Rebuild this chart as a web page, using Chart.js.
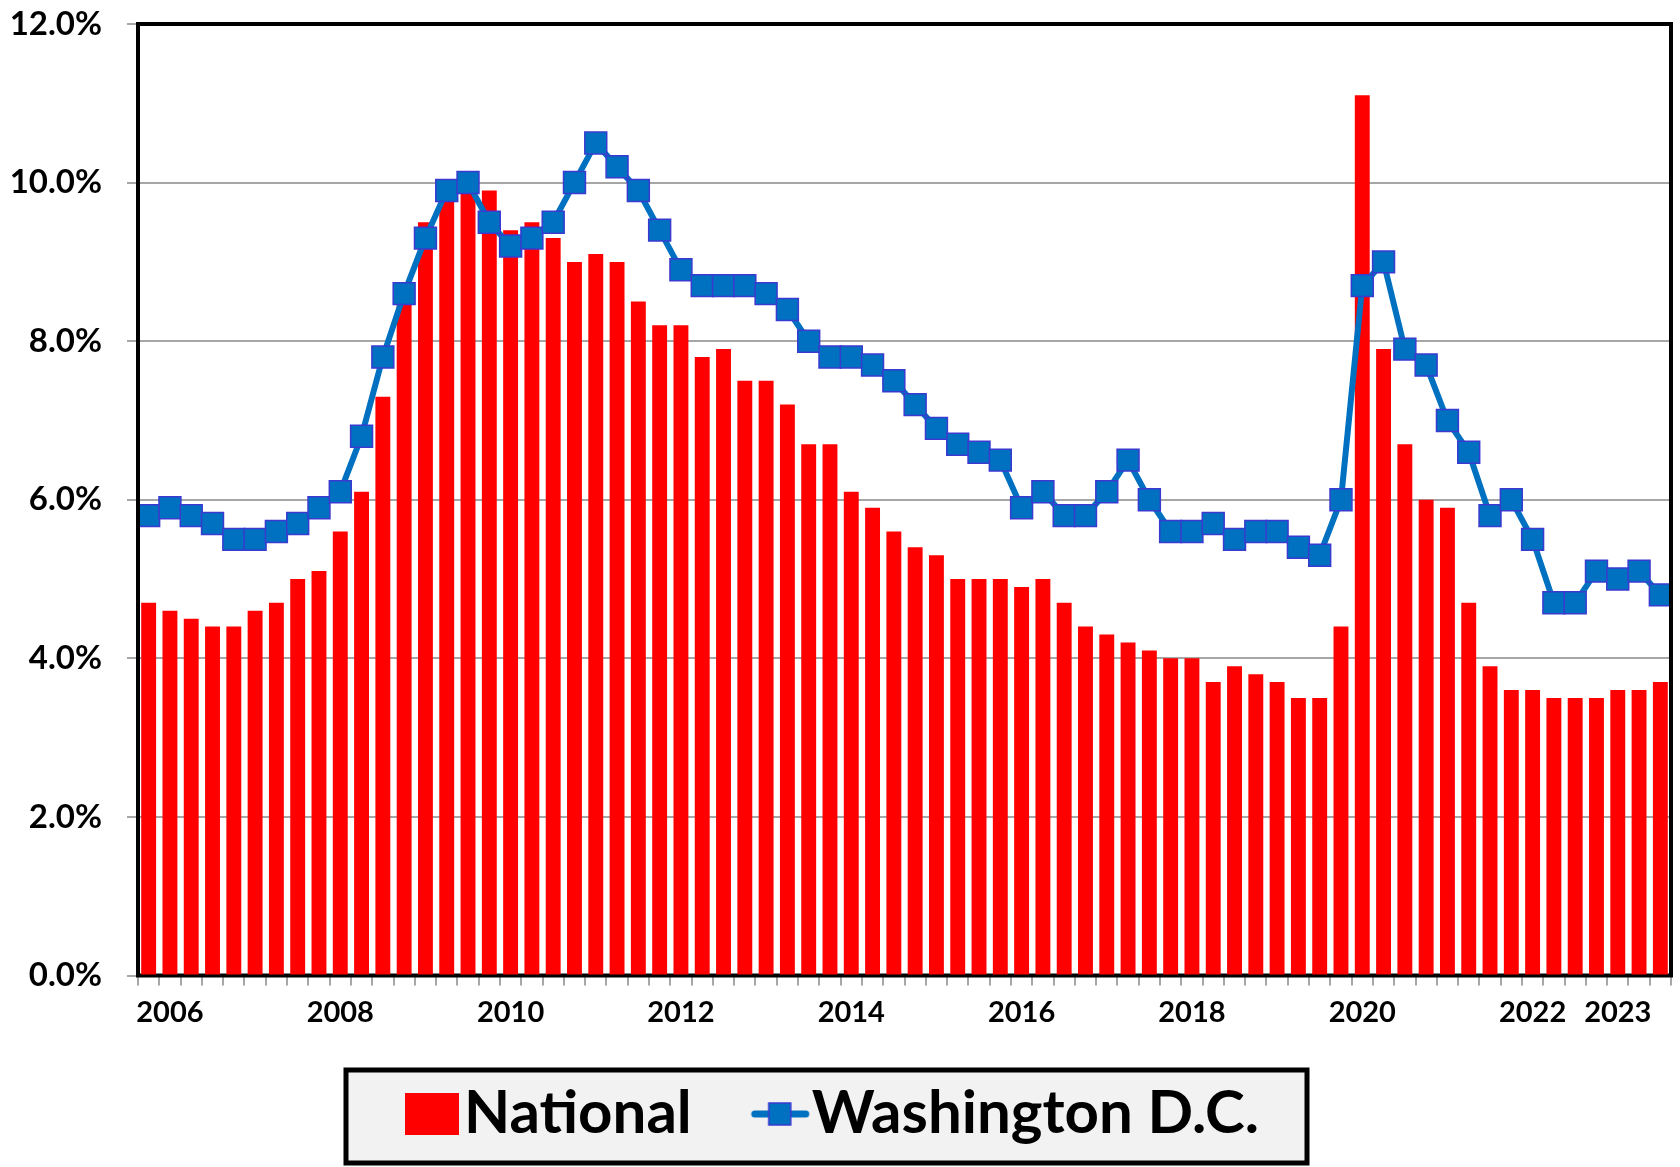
<!DOCTYPE html>
<html>
<head>
<meta charset="utf-8">
<script src="https://cdn.jsdelivr.net/npm/chart.js@4.4.1/dist/chart.umd.min.js"></script>
<style>
  html, body { margin: 0; padding: 0; background: #fff; }
  #wrap { width: 1680px; height: 1167px; }
</style>
</head>
<body>
<div id="wrap"><canvas id="chart" width="1680" height="1167"></canvas></div>
<script>
// quarterly, 2006 Q1 .. 2023 Q4
const quarters = [
  "2006Q1","2006Q2","2006Q3","2006Q4","2007Q1","2007Q2","2007Q3","2007Q4",
  "2008Q1","2008Q2","2008Q3","2008Q4","2009Q1","2009Q2","2009Q3","2009Q4",
  "2010Q1","2010Q2","2010Q3","2010Q4","2011Q1","2011Q2","2011Q3","2011Q4",
  "2012Q1","2012Q2","2012Q3","2012Q4","2013Q1","2013Q2","2013Q3","2013Q4",
  "2014Q1","2014Q2","2014Q3","2014Q4","2015Q1","2015Q2","2015Q3","2015Q4",
  "2016Q1","2016Q2","2016Q3","2016Q4","2017Q1","2017Q2","2017Q3","2017Q4",
  "2018Q1","2018Q2","2018Q3","2018Q4","2019Q1","2019Q2","2019Q3","2019Q4",
  "2020Q1","2020Q2","2020Q3","2020Q4","2021Q1","2021Q2","2021Q3","2021Q4",
  "2022Q1","2022Q2","2022Q3","2022Q4","2023Q1","2023Q2","2023Q3","2023Q4"
];

const national = [
  4.7, 4.6, 4.5, 4.4, 4.4, 4.6, 4.7, 5.0,
  5.1, 5.6, 6.1, 7.3, 8.5, 9.5, 9.8, 9.9,
  9.9, 9.4, 9.5, 9.3, 9.0, 9.1, 9.0, 8.5,
  8.2, 8.2, 7.8, 7.9, 7.5, 7.5, 7.2, 6.7,
  6.7, 6.1, 5.9, 5.6, 5.4, 5.3, 5.0, 5.0,
  5.0, 4.9, 5.0, 4.7, 4.4, 4.3, 4.2, 4.1,
  4.0, 4.0, 3.7, 3.9, 3.8, 3.7, 3.5, 3.5,
  4.4, 11.1, 7.9, 6.7, 6.0, 5.9, 4.7, 3.9,
  3.6, 3.6, 3.5, 3.5, 3.5, 3.6, 3.6, 3.7
];

const washingtonDC = [
  5.8, 5.9, 5.8, 5.7, 5.5, 5.5, 5.6, 5.7,
  5.9, 6.1, 6.8, 7.8, 8.6, 9.3, 9.9, 10.0,
  9.5, 9.2, 9.3, 9.5, 10.0, 10.5, 10.2, 9.9,
  9.4, 8.9, 8.7, 8.7, 8.7, 8.6, 8.4, 8.0,
  7.8, 7.8, 7.7, 7.5, 7.2, 6.9, 6.7, 6.6,
  6.5, 5.9, 6.1, 5.8, 5.8, 6.1, 6.5, 6.0,
  5.6, 5.6, 5.7, 5.5, 5.6, 5.6, 5.4, 5.3,
  6.0, 8.7, 9.0, 7.9, 7.7, 7.0, 6.6, 5.8,
  6.0, 5.5, 4.7, 4.7, 5.1, 5.0, 5.1, 4.8
];

// year labels shown under the axis and the category they sit on
const yearLabels = ["2006", "2008", "2010", "2012", "2014", "2016", "2018", "2020", "2022", "2023"];
const yearLabelAt = [1, 9, 17, 25, 33, 41, 49, 57, 65, 69];

const yTicks = [0, 2, 4, 6, 8, 10, 12];

const RED = "#ff0000";
const BLUE = "#0070c0";
const MARKER_EDGE = "#3a3ad0";
const GRID = "#a6a6a6";
const FONT = "Lato, 'Open Sans', sans-serif";

// legend swatches (canvas images used as point styles)
function swatch(kind) {
  const c = document.createElement("canvas");
  const g = c.getContext("2d");
  if (kind === "bar") {
    c.width = 120; c.height = 42;
    g.fillStyle = RED;
    g.fillRect(46, 0, 54, 42);
  } else {
    c.width = 120; c.height = 26;
    g.strokeStyle = BLUE;
    g.lineWidth = 7;
    g.lineCap = "round";
    g.beginPath();
    g.moveTo(48, 13);
    g.lineTo(99, 13);
    g.stroke();
    g.fillStyle = BLUE;
    g.fillRect(62, 2, 22, 22);
    g.strokeStyle = MARKER_EDGE;
    g.lineWidth = 1.5;
    g.strokeRect(62, 2, 22, 22);
  }
  return c;
}

const frame = {
  id: "frame",
  afterLayout(chart) {
    // nudge the legend row a little to the left, like the original
    chart.legend.left -= 4;
    chart.legend.right -= 4;
  },
  beforeDraw(chart) {
    const ctx = chart.ctx;
    ctx.save();
    ctx.fillStyle = "#f2f2f2";
    ctx.fillRect(346, 1070, 961, 93);
    ctx.strokeStyle = "#000";
    ctx.lineWidth = 5;
    ctx.strokeRect(346, 1070, 961, 93);
    ctx.restore();
  },
  beforeDatasetsDraw(chart) {
    const a = chart.chartArea;
    const ctx = chart.ctx;
    ctx.save();
    ctx.strokeStyle = "#000";
    ctx.lineWidth = 4;
    ctx.strokeRect(a.left, a.top, a.right - a.left, a.bottom - a.top);
    ctx.restore();
  },
  afterDatasetsDraw(chart) {
    const a = chart.chartArea;
    const ctx = chart.ctx;
    ctx.save();
    ctx.strokeStyle = "#000";
    ctx.lineWidth = 4;
    ctx.beginPath();
    ctx.moveTo(a.left, a.top);
    ctx.lineTo(a.right, a.top);
    ctx.lineTo(a.right, a.bottom);
    ctx.moveTo(a.left, a.top);
    ctx.lineTo(a.left, a.bottom);
    ctx.stroke();
    ctx.restore();
  }
};

new Chart(document.getElementById("chart").getContext("2d"), {
  data: {
    labels: quarters,
    datasets: [
      {
        type: "bar",
        label: "National",
        data: national,
        backgroundColor: RED,
        borderWidth: 0,
        barPercentage: 0.7,
        categoryPercentage: 1.0,
        order: 2
      },
      {
        type: "line",
        label: "Washington D.C.",
        data: washingtonDC,
        borderColor: BLUE,
        borderWidth: 6,
        tension: 0,
        pointStyle: "rect",
        pointRadius: 15.5,
        pointBackgroundColor: BLUE,
        pointBorderColor: MARKER_EDGE,
        pointBorderWidth: 1.5,
        order: 1
      }
    ]
  },
  options: {
    responsive: false,
    animation: false,
    layout: { autoPadding: false, padding: { left: 0, right: 9, top: 5, bottom: 13 } },
    plugins: {
      tooltip: { enabled: false },
      legend: {
        position: "bottom",
        labels: {
          usePointStyle: true,
          pointStyleWidth: 30,
          padding: 60,
          color: "#000",
          font: { family: FONT, size: 60, weight: "bold" },
          generateLabels() {
            return [
              { text: "National", pointStyle: swatch("bar"), fillStyle: RED, lineWidth: 0, datasetIndex: 0 },
              { text: "Washington D.C.", pointStyle: swatch("line"), fillStyle: BLUE, lineWidth: 0, datasetIndex: 1 }
            ];
          }
        }
      }
    },
    scales: {
      x: {
        offset: true,
        afterFit(scale) { scale.height = 48.5; },
        grid: {
          display: true,
          offset: true,
          drawOnChartArea: false,
          drawTicks: true,
          tickLength: 10,
          color: GRID,
          lineWidth: 2
        },
        border: { display: false },
        ticks: {
          autoSkip: false,
          maxRotation: 0,
          padding: 10,
          color: "#000",
          font: { family: FONT, size: 29, weight: "bold" },
          callback(value, index) {
            const k = yearLabelAt.indexOf(index);
            return k >= 0 ? yearLabels[k] : "";
          }
        }
      },
      y: {
        min: 0,
        max: 12,
        afterFit(scale) {
          scale.width = 138;
          scale.paddingTop = 24;
          scale.paddingBottom = 0;
        },
        afterBuildTicks(scale) { scale.ticks = yTicks.map(v => ({ value: v })); },
        grid: {
          color: GRID,
          lineWidth: 2,
          drawTicks: true,
          tickLength: 11
        },
        border: { display: false },
        ticks: {
          padding: 25,
          color: "#000",
          font: { family: FONT, size: 33, weight: "bold" },
          callback(v) { return v.toFixed(1) + "%"; }
        }
      }
    }
  },
  plugins: [frame]
});
</script>
</body>
</html>
